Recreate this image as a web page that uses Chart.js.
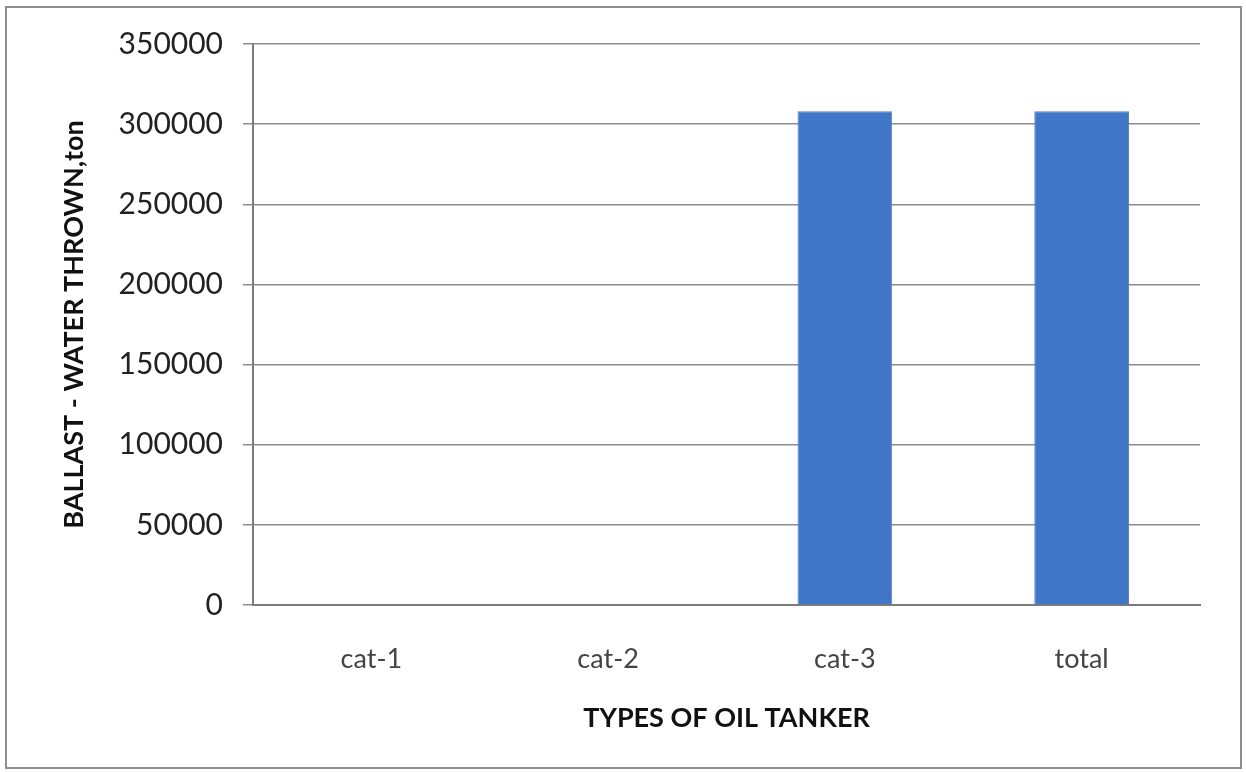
<!DOCTYPE html>
<html>
<head>
<meta charset="utf-8">
<script src="https://cdn.jsdelivr.net/npm/chart.js@4/dist/chart.umd.min.js"></script>
<style>
  html, body { margin: 0; padding: 0; background: #fff; }
  #wrap { position: relative; width: 1246px; height: 772px; }
  #frame {
    position: absolute; left: 5px; top: 6px; width: 1233px; height: 759px;
    border: 2px solid #8e8e8e; pointer-events: none;
  }
  canvas { position: absolute; left: 0; top: 0; }
</style>
</head>
<body>
<div id="wrap">
  <canvas id="ballastChart" width="1246" height="772"></canvas>
  <div id="frame"></div>
</div>
<script>
const categories = ['cat-1', 'cat-2', 'cat-3', 'total'];
const ballastTons = [0, 0, 308000, 308000];
const yTicks = [0, 50000, 100000, 150000, 200000, 250000, 300000, 350000];

// soft left-to-right shading on the columns
function barFill(context) {
  const { ctx, chartArea } = context.chart;
  const el = context.element;
  if (!chartArea || !el || el.width === undefined) return '#3f76c7';
  const x0 = el.x - el.width / 2;
  const g = ctx.createLinearGradient(x0, 0, x0 + el.width, 0);
  g.addColorStop(0, '#3a6dbd');
  g.addColorStop(0.3, '#4482d2');
  g.addColorStop(0.5, '#3d76c6');
  g.addColorStop(0.75, '#4680cf');
  g.addColorStop(1, '#3b6fc0');
  return g;
}

const ctx = document.getElementById('ballastChart').getContext('2d');

new Chart(ctx, {
  type: 'bar',
  data: {
    labels: categories,
    datasets: [{
      data: ballastTons,
      backgroundColor: barFill,
      borderColor: '#5b7fb3',
      borderWidth: 1,
      categoryPercentage: 1.0,
      barPercentage: 0.4
    }]
  },
  options: {
    responsive: false,
    animation: false,
    layout: { padding: { top: 44, right: 46, bottom: 0, left: 0 } },
    plugins: {
      legend: { display: false },
      tooltip: { enabled: false }
    },
    scales: {
      x: {
        grid: { display: false },
        border: { display: true, color: '#7a7a7a', width: 2 },
        ticks: {
          color: '#444',
          padding: 30,
          font: { family: 'Lato', size: 27 }
        },
        title: {
          display: true,
          text: 'TYPES OF OIL TANKER',
          color: '#111',
          font: { family: 'Lato', size: 27, weight: 'bold' },
          padding: { top: 0, bottom: 38 }
        },
        afterFit: scale => { scale.height = 167; }
      },
      y: {
        min: 0,
        max: 350000,
        afterBuildTicks: scale => { scale.ticks = yTicks.map(v => ({ value: v })); },
        grid: { color: '#8c8c8c', lineWidth: 1.5, tickLength: 10 },
        border: { display: true, color: '#7a7a7a', width: 2 },
        ticks: {
          color: '#222',
          padding: 20,
          font: { family: 'Lato', size: 30 },
          callback: value => String(value)
        },
        title: {
          display: true,
          text: 'BALLAST - WATER THROWN,ton',
          color: '#111',
          font: { family: 'Lato', size: 27, weight: 'bold' },
          padding: { top: 58, bottom: 0 }
        },
        afterFit: scale => { scale.width = 253; }
      }
    }
  }
});
</script>
</body>
</html>
